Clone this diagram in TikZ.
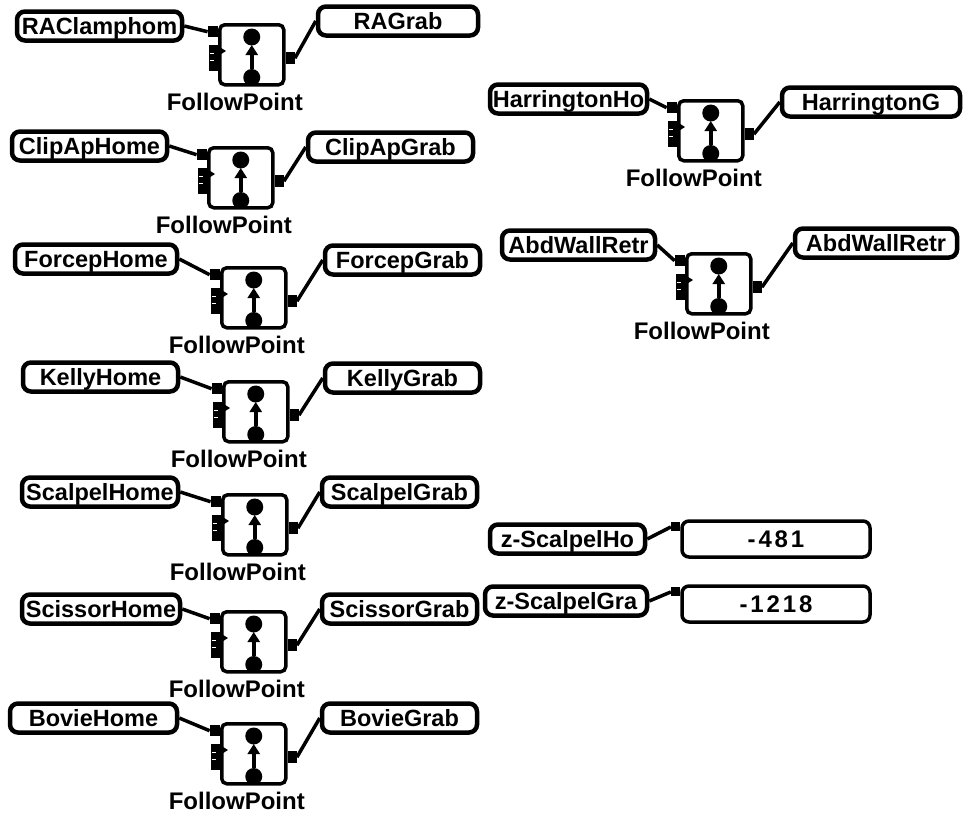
\documentclass[tikz,border=0pt]{standalone}
\usepackage{fontspec}
\setmainfont{Liberation Sans}
\newfontfamily\numfont[LetterSpace=12]{Liberation Sans}
\usetikzlibrary{calc,arrows.meta}
\tikzset{
  iobox/.style={draw, line width=4.5pt, rounded corners=8pt, minimum height=29pt,
    inner sep=0pt, text height=17pt, text depth=0pt,
    font=\bfseries\fontsize{23.5}{23.5}\selectfont, fill=white},
  blockbox/.style={draw, line width=3.5pt, rounded corners=5pt, minimum width=64pt,
    minimum height=60pt, inner sep=0pt},
  portbox/.style={fill=black, draw=none, inner sep=0pt},
  valbox/.style={draw, line width=3.5pt, rounded corners=7pt, minimum width=188pt,
    minimum height=36pt, inner sep=0pt, text height=17pt, text depth=0pt,
    font=\numfont\bfseries\fontsize{24}{24}\selectfont},
  fplabel/.style={font=\bfseries\fontsize{24}{24}\selectfont, inner sep=0pt},
  wire/.style={line width=3.5pt},
}
\newcommand{\iobx}[5]{%
  \node[iobox, minimum width={#3-#2}] (#1) at ({(#2+#3)/2},#4) {#5};}
\newcommand{\fpblk}[3]{%
  \node[blockbox, anchor=north west] (#1) at (#2,#3) {};
  \node[portbox, minimum width=10pt, minimum height=11pt, anchor=north east] (#1-ip) at ($(#1.north west)+(0,3)$) {};
  \node[portbox, minimum width=9pt, minimum height=26pt, anchor=north east] (#1-sp) at ($(#1.north west)+(0,22)$) {};
  \draw[white, line width=1pt] ($(#1-sp.north west)+(1,8)$) -- ++(4,0) ($(#1-sp.north west)+(1,15)$) -- ++(4,0);
  \fill ($(#1.north west)+(0,23)$) -- ++(8,5) -- ++(-8,5) -- cycle;
  \node[portbox, minimum width=9pt, minimum height=12pt, anchor=north west] (#1-op) at ($(#1.north east)+(0,29)$) {};
  \fill ($(#1.north)+(0,14)$) circle[radius=8.5pt];
  \draw[line width=3.5pt, -{Triangle[length=10pt,width=12pt]}] ($(#1.north)+(0,46)$) -- ($(#1.north)+(0,22)$);
  \fill ($(#1.south)+(0,-9)$) circle[radius=8.5pt];
  \node[fplabel] (#1-lb) at ($(#1.south)+(-17,15)$) {FollowPoint};}
\begin{document}
\begin{tikzpicture}[x=1pt,y=-1pt]
\useasboundingbox (0,0) rectangle (964,817);
% left column
\iobx{inA}{17}{182}{26}{RAClamphom}
\fpblk{bA}{218}{23}
\iobx{outA}{318}{478}{21}{RAGrab}
\iobx{inB}{12}{167}{146}{ClipApHome}
\fpblk{bB}{207}{146}
\iobx{outB}{308}{473}{147}{ClipApGrab}
\iobx{inC}{15}{177}{259}{ForcepHome}
\fpblk{bC}{220}{266}
\iobx{outC}{325}{480}{260}{ForcepGrab}
\iobx{inD}{23}{178}{377}{KellyHome}
\fpblk{bD}{222}{380}
\iobx{outD}{325}{480}{378}{KellyGrab}
\iobx{inE}{22}{178}{492}{ScalpelHome}
\fpblk{bE}{221}{493}
\iobx{outE}{322}{477}{492}{ScalpelGrab}
\iobx{inF}{22}{180}{609}{ScissorHome}
\fpblk{bF}{220}{610}
\iobx{outF}{322}{477}{609}{ScissorGrab}
\iobx{inG}{10}{177}{718}{BovieHome}
\fpblk{bG}{220}{722}
\iobx{outG}{322}{477}{718}{BovieGrab}
% right column
\iobx{inH}{490}{647}{99}{HarringtonHo}
\fpblk{bH}{677}{99}
\iobx{outH}{782}{960}{102}{HarringtonG}
\iobx{inI}{502}{655}{245}{AbdWallRetr}
\fpblk{bI}{685}{252}
\iobx{outI}{795}{957}{243}{AbdWallRetr}
% values
\iobx{zA}{490}{645}{539}{z-ScalpelHo}
\node[valbox] (vA) at (776,539) {-481};
\node[portbox, minimum width=9pt, minimum height=9pt, anchor=north east] (vA-ip) at ($(vA.north west)+(0,3)$) {};
\iobx{zB}{485}{647}{601}{z-ScalpelGra}
\node[valbox] (vB) at (776,604) {-1218};
\node[portbox, minimum width=9pt, minimum height=9pt, anchor=north east] (vB-ip) at ($(vB.north west)+(0,3)$) {};
% connectors
\foreach \r in {A,B,C,D,E,F,G,H,I}{
  \draw[wire] (in\r.east) -- (b\r-ip.west);
  \draw[wire] (b\r-op.east) -- (out\r.west);
}
\draw[wire] (zA.east) -- (vA-ip.west);
\draw[wire] (zB.east) -- (vB-ip.west);
\end{tikzpicture}
\end{document}
